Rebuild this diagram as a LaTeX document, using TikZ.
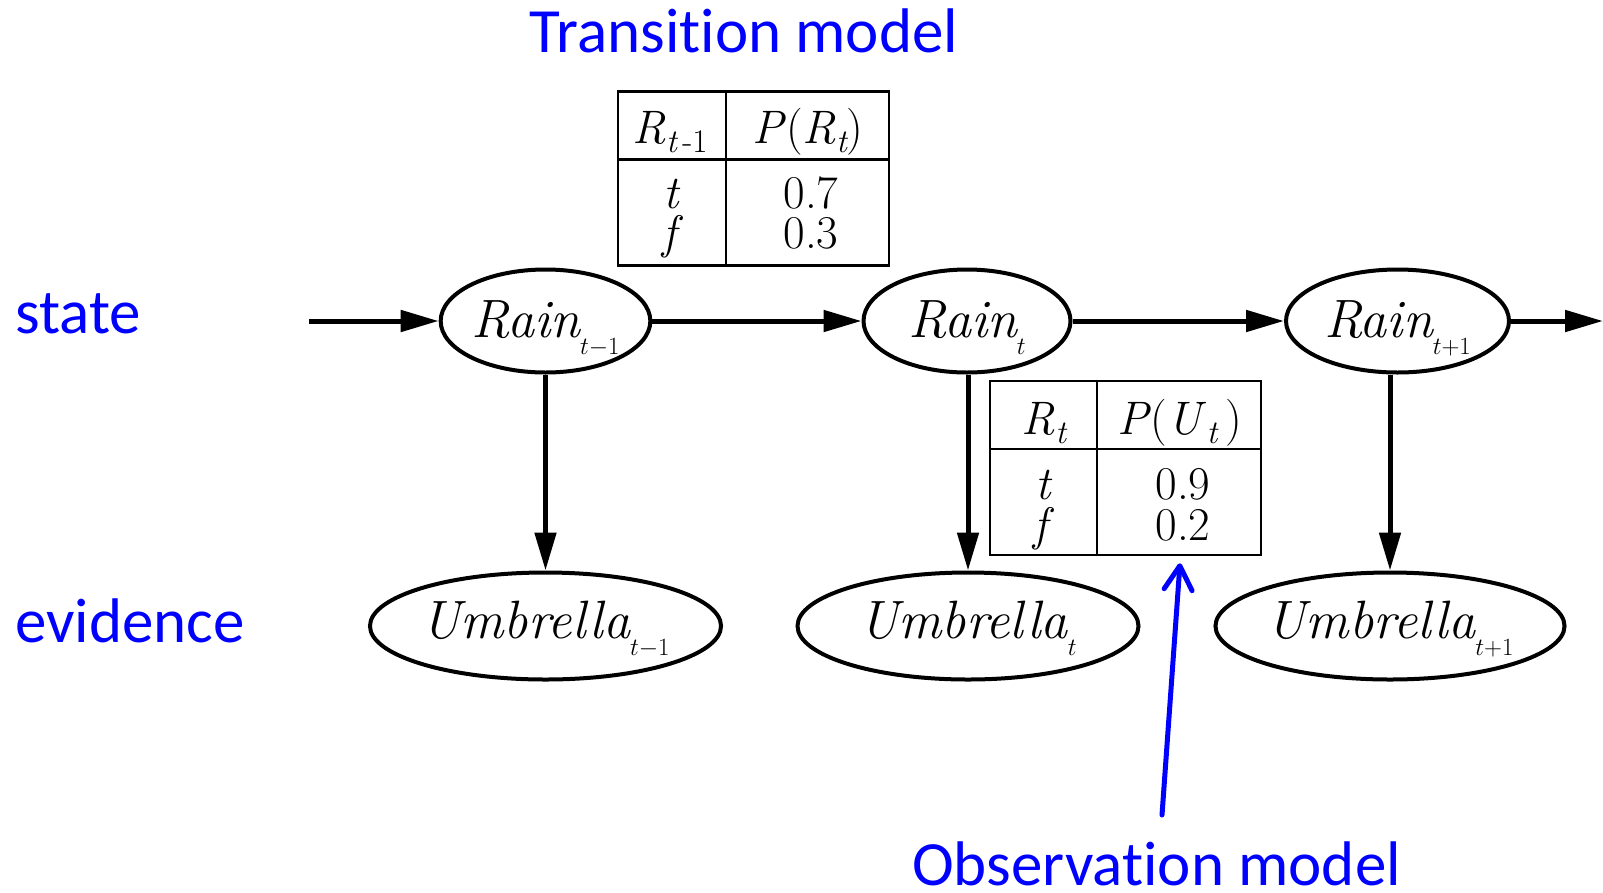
\documentclass[tikz,border=0pt]{standalone}
\usepackage{fontspec}
\newfontfamily\labelfont[Ligatures=NoCommon]{Carlito}
\usetikzlibrary{shapes.geometric, arrows.meta, calc}

% lowered index after a variable name / inside a table cell
\newcommand{\varsub}[1]{\smash{\raisebox{-17pt}{\fontsize{35}{35}\selectfont$#1$}}}
\newcommand{\cellsub}[1]{\raisebox{-9pt}{\fontsize{33}{33}\selectfont\itshape #1}}

\tikzset{
  var/.style={ellipse, draw, line width=4pt, inner sep=0pt, text depth=0pt,
    font=\fontsize{54}{54}\selectfont\itshape},
  rainvar/.style={var, minimum width=207pt, minimum height=103pt, text height=32pt},
  umbvar/.style={var, minimum width=350pt, minimum height=107pt, text height=25pt},
  link/.style={line width=5pt, -{Triangle[length=38pt,width=21pt]}},
  cpt/.style={draw, line width=2.5pt, inner sep=0pt, minimum width=271pt, minimum height=174pt},
  cell/.style={anchor=base, inner sep=0pt, font=\fontsize{47}{47}\selectfont},
  bluelabel/.style={text=blue, inner sep=0pt, font=\labelfont\fontsize{63}{63}\selectfont},
  pointer/.style={blue, line width=5pt, line cap=round, -{Straight Barb[length=24pt,width=28pt,round]}},
}

\begin{document}
\begin{tikzpicture}[x=1pt, y=-1pt]
  \useasboundingbox (0,0) rectangle (1603,892);

  % Labels
  \node[bluelabel, anchor=base] (transLbl) at (744,52) {Transit\kern0pt ion model};
  \node[bluelabel, anchor=base west] (stateLbl) at (15,333) {state};
  \node[bluelabel, anchor=base west] (evidLbl) at (15,642) {evidence};
  \node[bluelabel, anchor=base west] (obsLbl) at (912,885) {Observat\kern0pt ion model};

  % State variables
  \node[rainvar] (rainA) at (545.5,321) {Rain\varsub{t{-}1}};
  \node[rainvar] (rainB) at (967,321) {Rain\varsub{t}};
  \node[rainvar, minimum width=223pt] (rainC) at (1397.5,321) {Rain\varsub{t{+}1}};

  % Evidence variables
  \node[umbvar] (umbA) at (545.5,626) {Umbrella\varsub{t{-}1}};
  \node[umbvar, minimum width=341pt] (umbB) at (968,626) {Umbrella\varsub{t}};
  \node[umbvar, minimum width=342pt] (umbC) at (1390,626) {Umbrella\varsub{t{+}1}};

  % Transitions
  \coordinate (inStart) at (309,321);
  \coordinate (outEnd) at (1603,321);
  \draw[link] (inStart) -- (rainA.west);
  \draw[link] (rainA.east) -- (rainB.west);
  \draw[link] (rainB.east) -- (rainC.west);
  \draw[link] (rainC.east) -- (outEnd);

  % Observations
  \draw[link] (rainA.south -| umbA.north) -- (umbA.north);
  \draw[link] (rainB.south -| umbB.north) -- (umbB.north);
  \draw[link] (rainC.south -| umbC.north) -- (umbC.north);

  % Transition table
  \node[cpt] (transTab) at (753.5,178.5) {};
  \draw[line width=2.5pt] ($(transTab.north west)+(109,0)$) -- ($(transTab.south west)+(109,0)$);
  \draw[line width=2.5pt] ($(transTab.north west)+(0,69)$) -- ($(transTab.north east)+(0,69)$);
  \node[cell] (transHdA) at (670,143) {\textit{R}\cellsub{t\,{\upshape -1}}};
  \node[cell] (transHdB) at (808,143) {\textit{P}(\textit{R}\cellsub{t})};
  \node[cell] (transTA) at (672.5,208) {\textit{t}};
  \node[cell] (transTB) at (811,208) {0.7};
  \node[cell] (transFA) at (672.5,248) {\textit{f}};
  \node[cell] (transFB) at (811,248) {0.3};

  % Observation table
  \node[cpt] (obsTab) at (1125.5,468) {};
  \draw[line width=2.5pt] ($(obsTab.north west)+(108,0)$) -- ($(obsTab.south west)+(108,0)$);
  \draw[line width=2.5pt] ($(obsTab.north west)+(0,69)$) -- ($(obsTab.north east)+(0,69)$);
  \node[cell] (obsHdA) at (1044,434) {\textit{R}\cellsub{t}};
  \node[cell] (obsHdB) at (1179.5,434) {\textit{P}(\textit{U}\cellsub{t}\,)};
  \node[cell] (obsTA) at (1044,499) {\textit{t}};
  \node[cell] (obsTB) at (1183,499) {0.9};
  \node[cell] (obsFA) at (1044,540) {\textit{f}};
  \node[cell] (obsFB) at (1183,540) {0.2};

  % Pointer to observation model
  \coordinate (obsTail) at (1162,815);
  \draw[pointer] (obsTail) -- ($(obsTab.south)+(54.5,7)$);
\end{tikzpicture}
\end{document}
